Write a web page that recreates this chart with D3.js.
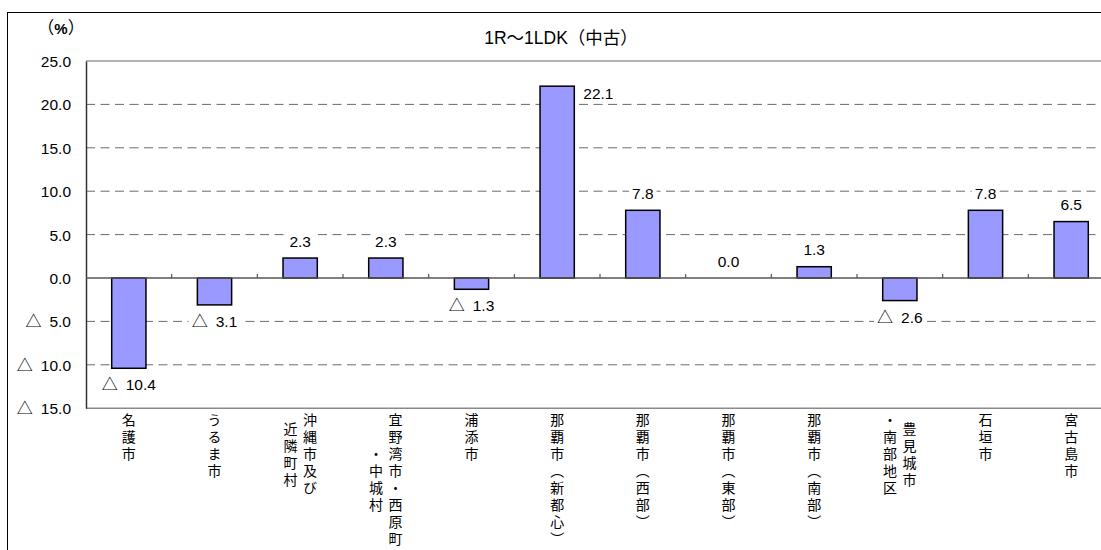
<!DOCTYPE html>
<html>
<head>
<meta charset="utf-8">
<script src="https://cdn.jsdelivr.net/npm/d3@7"></script>
<style>
  html, body { margin: 0; padding: 0; background: #fff; }
  svg { display: block; }
  .num { font-family: "Liberation Sans", Arial, sans-serif; }
  .cjk { font-family: "Noto Sans CJK JP", sans-serif; }
  .vert { writing-mode: vertical-rl; text-orientation: upright; }
</style>
</head>
<body>
<svg id="chart" width="1101" height="550"></svg>
<script>
// Change rates by area, 1R–1LDK (used)
const categories = [
  "名護市", "うるま市", "沖縄市及び\n近隣町村", "宜野湾市・西原町\n・中城村", "浦添市",
  "那覇市（新都心）", "那覇市（西部）", "那覇市（東部）", "那覇市（南部）",
  "豊見城市\n・南部地区", "石垣市", "宮古島市"
];
const values = [-10.4, -3.1, 2.3, 2.3, -1.3, 22.1, 7.8, 0.0, 1.3, -2.6, 7.8, 6.5];
const yTicks = [25, 20, 15, 10, 5, 0, -5, -10, -15];
const chartTitle = "1R～1LDK（中古）";
const unitLabel = "（%）";

const svg = d3.select("#chart");

// outer frame
svg.append("rect")
  .attr("x", 7.5).attr("y", 12.5)
  .attr("width", 1200).attr("height", 600)
  .attr("fill", "#fff").attr("stroke", "#000").attr("stroke-width", 1);

const plot = { left: 86, right: 1114, top: 61, bottom: 408.2 };

const x = d3.scaleBand()
  .domain(categories)
  .range([plot.left, plot.right])
  .paddingInner(0.6)
  .paddingOuter(0.3);

const y = d3.scaleLinear()
  .domain([-15, 25])
  .range([plot.bottom, plot.top]);

const fmtNum = v => Math.abs(v).toFixed(1);

// writes a value as text; negatives get a leading triangle mark
function writeValue(sel, v) {
  sel.text(null);
  if (v < 0) {
    sel.append("tspan")
      .attr("font-family", "Noto Sans CJK JP")
      .attr("font-size", 16)
      .text("△");
    sel.append("tspan").attr("dx", 8).text(fmtNum(v));
  } else {
    sel.append("tspan").text(fmtNum(v));
  }
}

// horizontal gridlines
const grid = svg.append("g");
yTicks.forEach(t => {
  if (t === 0) return;
  let stroke = "#6b6b6b", dash = "9,5.5", w = 1;
  if (t === 25) { stroke = "#9a9a9a"; dash = null; w = 1.6; }
  if (t === -15) { stroke = "#8a8a8a"; dash = null; w = 1.6; }
  grid.append("line")
    .attr("x1", plot.left).attr("x2", plot.right)
    .attr("y1", y(t)).attr("y2", y(t))
    .attr("stroke", stroke).attr("stroke-width", w)
    .attr("stroke-dasharray", dash);
});

// y axis with tick labels
const yAxis = d3.axisLeft(y)
  .tickValues(yTicks)
  .tickSize(0)
  .tickPadding(15)
  .tickFormat(fmtNum);

const yg = svg.append("g")
  .attr("transform", `translate(${plot.left},0)`)
  .call(yAxis);
yg.select(".domain").attr("stroke", "#333").attr("stroke-width", 1.5);
yg.selectAll(".tick text")
  .attr("class", "num")
  .attr("font-size", 15.5)
  .attr("fill", "#000")
  .attr("dy", "0.36em")
  .each(function (d) { writeValue(d3.select(this), d); });

// bars
const step = x.step();
svg.append("g").selectAll("rect")
  .data(values)
  .join("rect")
  .attr("x", (d, i) => x(categories[i]))
  .attr("width", x.bandwidth())
  .attr("y", d => y(Math.max(0, d)))
  .attr("height", d => Math.abs(y(d) - y(0)))
  .attr("fill", "#9999ff")
  .attr("stroke", "#000")
  .attr("stroke-width", 1.5)
  .style("display", d => d === 0 ? "none" : null);

// zero line with category ticks
const zero = svg.append("g");
zero.append("line")
  .attr("x1", plot.left).attr("x2", plot.right)
  .attr("y1", y(0)).attr("y2", y(0))
  .attr("stroke", "#555").attr("stroke-width", 1.4);
categories.forEach((c, i) => {
  if (i === 0) return;
  const bx = x(c) - step * 0.3;
  zero.append("line")
    .attr("x1", bx).attr("x2", bx)
    .attr("y1", y(0)).attr("y2", y(0) - 4)
    .attr("stroke", "#555").attr("stroke-width", 1.2);
});

// value labels on a white backing
const labels = svg.append("g");
values.forEach((v, i) => {
  const cx = x(categories[i]) + x.bandwidth() / 2;
  let tx = cx, ty, anchor = "middle";
  if (v >= 0) {
    ty = y(v) - 17;
    if (ty < plot.top + 12) {
      tx = x(categories[i]) + x.bandwidth() + 9;
      ty = y(v) + 7;
      anchor = "start";
    }
  } else {
    ty = y(v) + 16.5;
  }
  const g = labels.append("g");
  const t = g.append("text")
    .attr("class", "num")
    .attr("x", tx).attr("y", ty)
    .attr("dy", "0.36em")
    .attr("text-anchor", anchor)
    .attr("font-size", 15.5)
    .attr("fill", "#000");
  writeValue(t, v);
  const bb = t.node().getBBox();
  g.insert("rect", "text")
    .attr("x", bb.x - 3).attr("y", bb.y + 1)
    .attr("width", bb.width + 6).attr("height", bb.height - 2)
    .attr("fill", "#fff");
});

// vertical category labels (columns run right to left, centred on each other)
const vertMap = { "（": "︵", "）": "︶" };
const pitch = 17, colGap = 19.5, topY = 413;
const catG = svg.append("g").attr("class", "cjk");
categories.forEach(c => {
  const cx = x(c) + x.bandwidth() / 2;
  const cols = c.split("\n");
  const maxLen = d3.max(cols, s => [...s].length);
  cols.forEach((col, k) => {
    const colX = cx + ((cols.length - 1) / 2 - k) * colGap;
    const chars = [...col];
    const off = (maxLen - chars.length) * pitch / 2;
    catG.append("text")
      .attr("class", "vert")
      .attr("x", colX)
      .attr("y", topY + off)
      .attr("font-size", 14)
      .attr("letter-spacing", pitch - 14)
      .attr("fill", "#000")
      .text(chars.map(ch => vertMap[ch] || ch).join(""));
  });
});

// title and unit
svg.append("text")
  .attr("x", 561).attr("y", 38)
  .attr("dy", "0.36em")
  .attr("text-anchor", "middle")
  .attr("font-family", "'Liberation Sans', 'Noto Sans CJK JP', sans-serif")
  .attr("font-size", 17.5)
  .attr("fill", "#000")
  .text(chartTitle);

svg.append("text")
  .attr("class", "cjk")
  .attr("x", 61).attr("y", 28)
  .attr("dy", "0.36em")
  .attr("text-anchor", "middle")
  .attr("fill", "#000")
  .selectAll("tspan")
  .data([...unitLabel])
  .join("tspan")
  .attr("font-weight", d => d === "%" ? "bold" : null)
  .attr("font-family", d => d === "%" ? "Liberation Sans" : null)
  .attr("font-size", d => d === "%" ? 15 : 17)
  .text(d => d);
</script>
</body>
</html>
